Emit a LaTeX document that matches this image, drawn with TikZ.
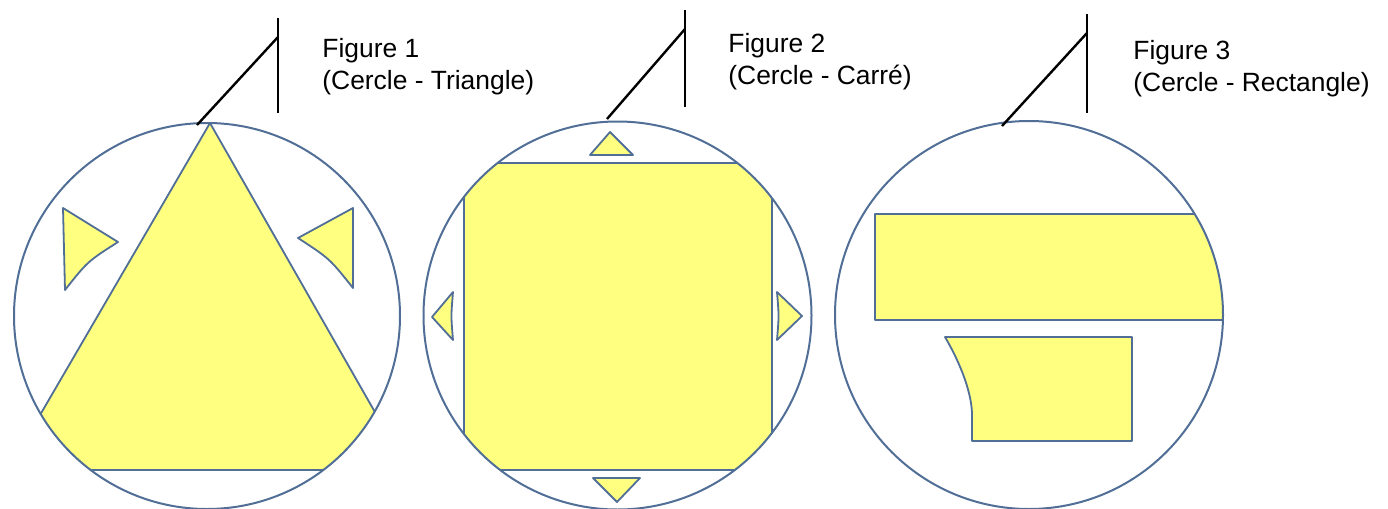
\documentclass[tikz,border=0pt]{standalone}
\usepackage{fontspec}
\setmainfont{Liberation Sans}
\usepackage{xcolor}
\usetikzlibrary{positioning}
\definecolor{pieceyellow}{RGB}{255,255,128}
\definecolor{edgeblue}{RGB}{80,110,150}

\begin{document}
\begin{tikzpicture}[
    x=0.5pt, y=-0.5pt,
    ring/.style={draw=edgeblue, line width=1pt},
    piece/.style={fill=pieceyellow, draw=edgeblue, line width=0.9pt, line join=round},
    callout/.style={draw=black, line width=1.2pt},
    caption/.style={anchor=north west, inner sep=0pt, align=left, font=\fontsize{13.2}{16}\selectfont}
]
    \useasboundingbox (0,0) rectangle (1388,509);

    % Figure 1
    \begin{scope}
        \clip (207,316) circle (193);
        \draw[piece] (210,123) -- (8,470) -- (408,470) -- cycle;
    \end{scope}
    \draw[piece] (63,208) -- (118,242) .. controls (87.5,261.5) .. (65,290) -- cycle;
    \draw[piece] (353,208) -- (298,238) .. controls (329.5,258.5) .. (353,288) -- cycle;
    \draw[ring] (207,316) circle (193);

    % Figure 2
    \begin{scope}
        \clip (617.5,315.5) circle (194);
        \draw[piece] (464,163) rectangle (772,470);
    \end{scope}
    \draw[piece] (590,155) -- (610,132) -- (633,155) -- cycle;
    \draw[piece] (593,478) -- (640,478) -- (617,502) -- cycle;
    \draw[piece] (453,340) .. controls (451,316) .. (453,292) -- (432,317) -- cycle;
    \draw[piece] (777,292) .. controls (779,316) .. (777,340) -- (802,316) -- cycle;
    \draw[ring] (617.5,315.5) circle (194);

    % Figure 3
    \begin{scope}
        \clip (1029,315) circle (194);
        \draw[piece] (875,214) rectangle (1260,320);
    \end{scope}
    \draw[piece] (972,441) -- (972,415) .. controls (972,395) and (962,366) .. (945,337)
        -- (1132,337) -- (1132,441) -- cycle;
    \draw[ring] (1029,315) circle (194);

    % captions
    \node[caption] (cap1) at (322,38) {Figure 1\\(Cercle - Triangle)};
    \node[caption] (cap2) at (728,33) {Figure 2\\(Cercle - Carré)};
    \node[caption] (cap3) at (1133,40) {Figure 3\\(Cercle - Rectangle)};

    \coordinate (tip1) at (197,125);
    \coordinate (knee1) at (278,37);
    \coordinate (bar1top) at (278,18);
    \coordinate (bar1bot) at (278,113);
    \coordinate (tip2) at (607,119);
    \coordinate (knee2) at (685,29);
    \coordinate (bar2top) at (685,10);
    \coordinate (bar2bot) at (685,107);
    \coordinate (tip3) at (1002,126);
    \coordinate (knee3) at (1087,33);
    \coordinate (bar3top) at (1087,14);
    \coordinate (bar3bot) at (1087,113);

    \draw[callout] (tip1) -- (knee1);
    \draw[callout] (bar1top) -- (bar1bot);
    \draw[callout] (tip2) -- (knee2);
    \draw[callout] (bar2top) -- (bar2bot);
    \draw[callout] (tip3) -- (knee3);
    \draw[callout] (bar3top) -- (bar3bot);
\end{tikzpicture}
\end{document}
